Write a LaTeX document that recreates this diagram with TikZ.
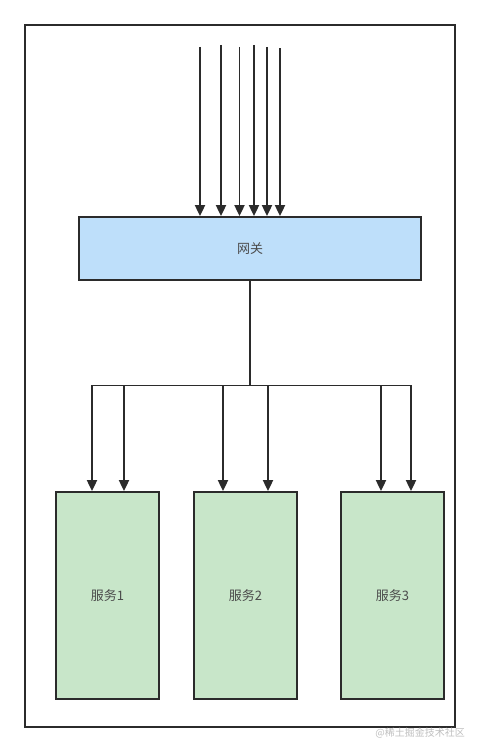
\documentclass[tikz,border=0pt]{standalone}
\usepackage{fontspec}
\newfontfamily\cjk{Noto Sans CJK SC}
\usetikzlibrary{arrows.meta}
\definecolor{gwfill}{HTML}{BEDFFA}
\definecolor{svfill}{HTML}{C8E6C9}
\definecolor{ink}{HTML}{2B2B2B}
\tikzset{
  box/.style={draw=ink, line width=1.8pt, inner sep=0pt, font=\cjk\fontsize{13}{15}\selectfont, text=ink!85},
  gwbox/.style={box, fill=gwfill, minimum width=342pt, minimum height=63pt},
  svbox/.style={box, fill=svfill, minimum width=103pt, minimum height=207pt},
  conn/.style={draw=ink, line width=1.9pt},
  arr/.style={conn, -{Triangle[length=11pt,width=10pt]}}
}
\begin{document}
\begin{tikzpicture}[x=1pt,y=-1pt]
\useasboundingbox (0,0) rectangle (480,752);
\node[draw=ink, line width=1.5pt, minimum width=430pt, minimum height=702pt, inner sep=0pt] (frame) at (240,376) {};
\node[gwbox] (gw) at (250,248.5) {网关};
\node[svbox] (s1) at (107.5,595.5) {服务1};
\node[svbox] (s2) at (245.5,595.5) {服务2};
\node[svbox] (s3) at (392.5,595.5) {服务3};
% top incoming arrows
\coordinate (t1) at (200,47);
\coordinate (t2) at (221,45);
\coordinate (t3) at (239.5,47);
\coordinate (t4) at (254,45);
\coordinate (t5) at (267,47);
\coordinate (t6) at (280,48.5);
\foreach \t in {t1,t2,t3,t4,t5,t6}{
  \draw[arr] (\t) -- (\t |- gw.north);
}
% distribution
\coordinate (j) at (250,385.5);
\coordinate (bl) at (92,385.5);
\coordinate (br) at (411,385.5);
\draw[conn] (gw.south) -- (j);
\draw[conn, line cap=rect] (bl) -- (br);
\coordinate (b1) at (92,385.5);
\coordinate (b2) at (124,385.5);
\coordinate (b3) at (223,385.5);
\coordinate (b4) at (268,385.5);
\coordinate (b5) at (381,385.5);
\coordinate (b6) at (411,385.5);
\draw[arr] (b1) -- (b1 |- s1.north);
\draw[arr] (b2) -- (b2 |- s1.north);
\draw[arr] (b3) -- (b3 |- s2.north);
\draw[arr] (b4) -- (b4 |- s2.north);
\draw[arr] (b5) -- (b5 |- s3.north);
\draw[arr] (b6) -- (b6 |- s3.north);
\node[font=\cjk\fontsize{10}{11}\selectfont, text=black!25, anchor=east, inner sep=0pt] (wm) at (465,733) {@稀土掘金技术社区};
\end{tikzpicture}
\end{document}
